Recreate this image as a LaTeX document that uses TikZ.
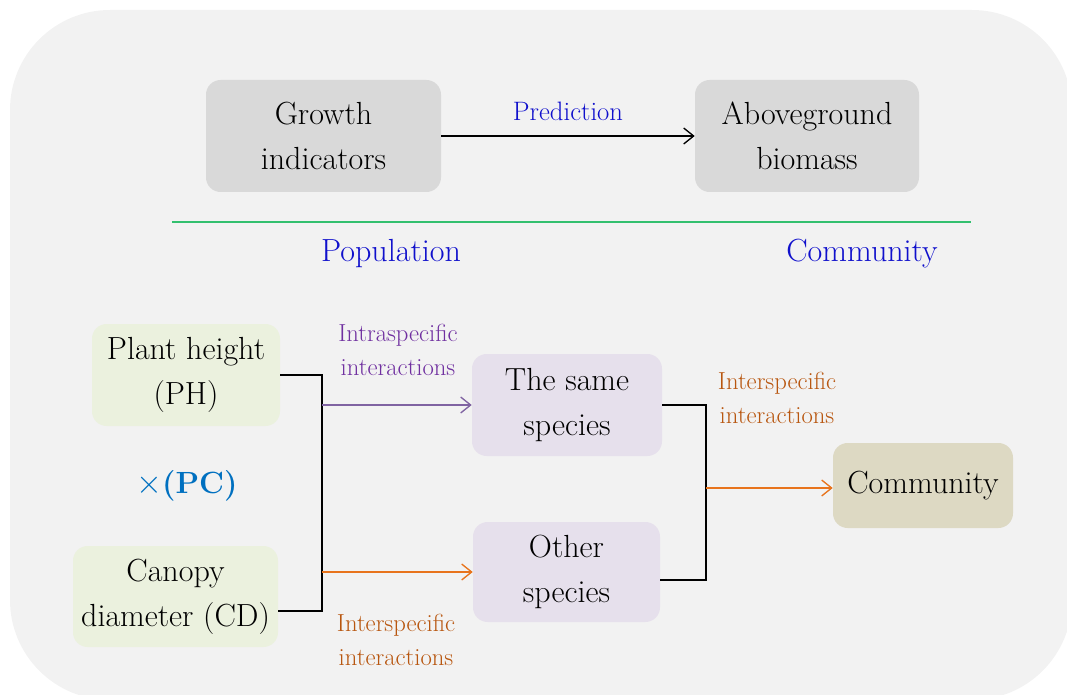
\documentclass[tikz,border=0pt]{standalone}
\usetikzlibrary{arrows.meta}
\definecolor{bggray}{HTML}{F2F2F2}
\definecolor{boxgray}{HTML}{D9D9D9}
\definecolor{boxgreen}{HTML}{EBF1DE}
\definecolor{boxlav}{HTML}{E6E0EC}
\definecolor{boxkhaki}{HTML}{DDD9C3}
\definecolor{txtblue}{HTML}{1010CC}
\definecolor{pcblue}{HTML}{0070C0}
\definecolor{linegreen}{HTML}{33C06F}
\definecolor{intrapurple}{HTML}{7030A0}
\definecolor{arrpurple}{HTML}{8064A2}
\definecolor{arrorange}{HTML}{E8741C}
\definecolor{txtbrown}{HTML}{B8560F}
\tikzset{
  box/.style={rounded corners=11pt, align=center, inner sep=0pt,
    font=\fontsize{24}{33.5}\selectfont},
  lbl/.style={align=center, font=\fontsize{18.5}{26}\selectfont},
  head/.style={text=txtblue, font=\fontsize{24}{28}\selectfont},
  tip/.style={-{Straight Barb[length=7.5pt,width=12pt]}, line width=1pt},
  brk/.style={line width=1.2pt},
}
\begin{document}
\begin{tikzpicture}[x=0.75pt,y=-0.75pt]
\useasboundingbox (0,0) rectangle (1067,695);
\fill[bggray, rounded corners=75pt] (10,10) rectangle (1072,700);

% top row
\node[box, fill=boxgray, minimum width=176.25pt, minimum height=84pt] (growth) at (323.5,136) {Growth\\indicators};
\node[box, fill=boxgray, minimum width=168pt, minimum height=84pt] (above) at (807,136) {Aboveground\\biomass};
\draw[tip] (growth) -- (above) node[midway, above=8pt, text=txtblue, font=\fontsize{20}{24}\selectfont] {Prediction};

\coordinate (sepl) at (172,222);
\coordinate (sepr) at (971,222);
\draw[linegreen, line width=1.2pt] (sepl) -- (sepr);

\node[head] (pop) at (391,254) {Population};
\node[head] (com) at (862,254) {Community};

% population
\node[box, fill=boxgreen, minimum width=141pt, minimum height=76.5pt] (ph) at (186,375) {Plant height\\(PH)};
\node[box, fill=boxgreen, minimum width=153.75pt, minimum height=75.75pt] (cd) at (175.5,596.5) {Canopy\\diameter (CD)};
\node[text=pcblue, font=\fontsize{23}{26}\selectfont] (pc) at (187,486) {$\times$\textbf{(PC)}};

\coordinate (b1) at (322,611);
\draw[brk] (ph.east) -| (b1) -- (b1 -| cd.east);

\node[box, fill=boxlav, minimum width=142.5pt, minimum height=76.5pt] (same) at (567,405) {The same\\species};
\node[box, fill=boxlav, minimum width=140.25pt, minimum height=75pt] (other) at (566.5,572) {Other\\species};

\draw[tip, arrpurple] (same.west -| b1) -- (same.west);
\draw[tip, arrorange] (other.west -| b1) -- (other.west);
\node[lbl, text=intrapurple] (intra) at (398,350) {Intraspecific\\interactions};
\node[lbl, text=txtbrown] (inter1) at (396,640) {Interspecific\\interactions};

% community
\coordinate (b2) at (706,580);
\draw[brk] (same.east) -| (b2) -- (b2 -| other.east);

\node[box, fill=boxkhaki, minimum width=135pt, minimum height=63.75pt] (comm) at (923,485.5) {Community};
\coordinate (c2) at (706,488);
\draw[tip, arrorange] (c2) -- (c2 -| comm.west);
\node[lbl, text=txtbrown] (inter2) at (777,398) {Interspecific\\interactions};

\end{tikzpicture}
\end{document}
